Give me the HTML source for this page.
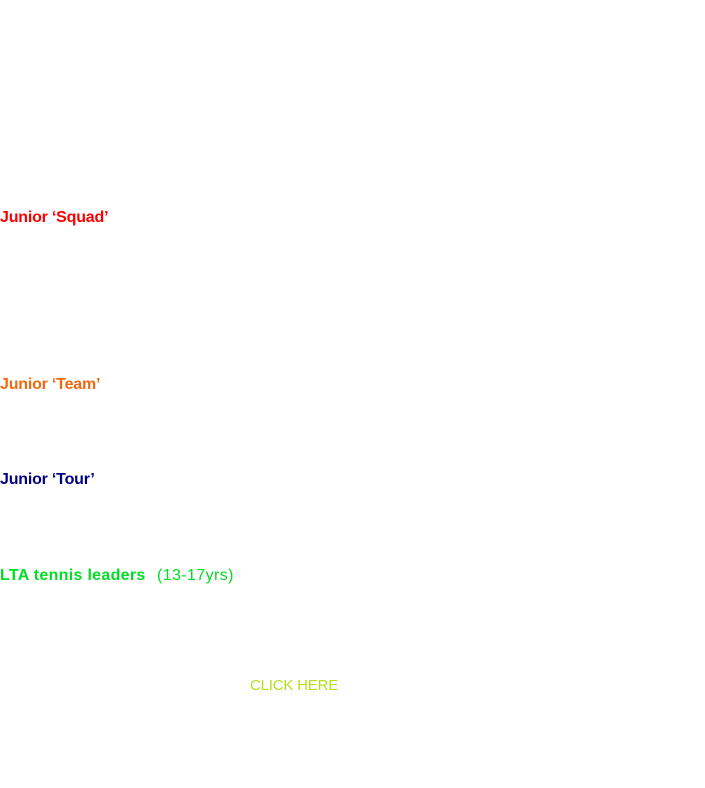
<!DOCTYPE html>
<html><head><style>
body{margin:0;width:705px;height:788px;background:#fff;position:relative;overflow:hidden;font-family:"Liberation Sans",sans-serif;}
.t{position:absolute;left:0;font-size:16px;font-weight:bold;white-space:nowrap;letter-spacing:-0.2px;}
</style></head><body>
<div class="t" style="top:209px;color:#ff0000">Junior ‘Squad’</div>
<div class="t" style="top:376px;color:#f26a10">Junior ‘Team’</div>
<div class="t" style="top:471px;color:#000080">Junior ‘Tour’</div>
<div class="t" style="top:567px;color:#00dd22;letter-spacing:0.3px">LTA tennis leaders<span style="position:absolute;left:157px;font-weight:normal;letter-spacing:0.4px">(13-17yrs)</span></div>
<div class="t" style="top:677px;left:250px;font-weight:normal;color:#b4e01a;font-size:15px">CLICK HERE</div>
</body></html>
